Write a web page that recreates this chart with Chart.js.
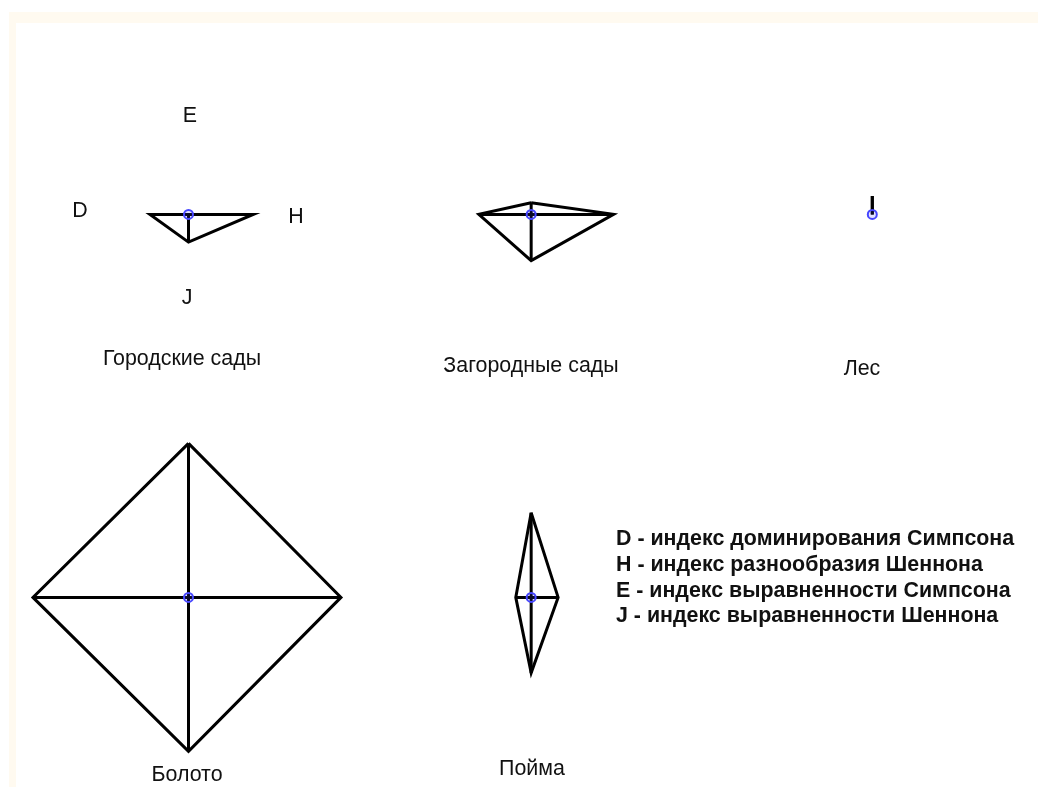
<!DOCTYPE html>
<html lang="ru">
<head>
<meta charset="utf-8">
<title>Индексы разнообразия</title>
<script src="https://cdn.jsdelivr.net/npm/chart.js@4.4.1/dist/chart.umd.min.js"></script>
<style>
  html, body { margin: 0; padding: 0; background: #fff; }
  #wrap { position: relative; width: 1038px; height: 787px; overflow: hidden; }
  #frame {
    position: absolute; left: 9px; top: 12px; right: 0; bottom: 0;
    border-top: 11px solid #fffaf0; border-left: 7px solid #fffaf0;
    background: #fff;
  }
  #chart { position: absolute; left: 0; top: 0; }
  .lbl {
    position: absolute; font-family: "Liberation Sans", Arial, sans-serif;
    font-size: 21.4px; line-height: 21.4px; color: #111; white-space: nowrap;
    transform: translateX(-50%);
  }
  .legend {
    position: absolute; left: 616px; font-family: "Liberation Sans", Arial, sans-serif;
    font-size: 21.4px; line-height: 21.4px; font-weight: bold; color: #111; white-space: nowrap;
  }
</style>
</head>
<body>
<div id="wrap">
  <div id="frame"></div>
  <canvas id="chart" width="1038" height="787"></canvas>

  <div class="lbl" style="left:190px;top:105px">E</div>
  <div class="lbl" style="left:80px;top:200px">D</div>
  <div class="lbl" style="left:296px;top:206px">H</div>
  <div class="lbl" style="left:187px;top:287px">J</div>

  <div class="lbl" style="left:182px;top:348px">Городские сады</div>
  <div class="lbl" style="left:531px;top:355px">Загородные сады</div>
  <div class="lbl" style="left:862px;top:358px">Лес</div>
  <div class="lbl" style="left:187px;top:764px">Болото</div>
  <div class="lbl" style="left:532px;top:758px">Пойма</div>

  <div class="legend" style="top:528px">D - индекс доминирования Симпсона</div>
  <div class="legend" style="top:554px">H - индекс разнообразия Шеннона</div>
  <div class="legend" style="top:580px">E - индекс выравненности Симпсона</div>
  <div class="legend" style="top:605px">J - индекс выравненности Шеннона</div>
</div>

<script>
// sites and index values (relative units, Болото ~ 1)
const sites = ["Городские сады", "Загородные сады", "Лес", "Болото", "Пойма"];
const indexD = [0.25, 0.34, 0, 1.01, 0.10];
const indexH = [0.42, 0.535, 0, 0.99, 0.175];
const indexE = [0, 0.075, 0.12, 1.0, 0.55];
const indexJ = [0.18, 0.30, 0, 1.0, 0.49];

// where each site's cross sits on the sheet
const cellX = [0, 2.225, 4.44, 0, 2.225];
const cellY = [0, 0, 0, -2.487, -2.487];

document.addEventListener("DOMContentLoaded", () => {
  initChart();
});

function initChart() {
  const canvas = document.getElementById("chart");
  if (!canvas) return;

  const datasets = [];

  // center markers, drawn on top
  datasets.push({
    label: "центр",
    data: sites.map((s, i) => ({ x: cellX[i], y: cellY[i] })),
    showLine: false,
    pointRadius: 4.5,
    pointBorderWidth: 2,
    pointBorderColor: "#4646ff",
    pointBackgroundColor: "rgba(70,70,255,0.15)",
    order: 0,
  });

  sites.forEach((name, i) => {
    const cx = cellX[i];
    const cy = cellY[i];
    const top = { x: cx, y: cy + indexE[i] };
    const right = { x: cx + indexH[i], y: cy };
    const bottom = { x: cx, y: cy - indexJ[i] };
    const left = { x: cx - indexD[i], y: cy };

    // outline
    datasets.push({
      label: name,
      data: [top, right, bottom, left, top],
      showLine: true,
      borderColor: "#000",
      borderWidth: 3,
      pointRadius: 0,
      fill: false,
      order: 1,
    });

    // spokes E-J and D-H
    datasets.push({
      label: name + " оси",
      data: [top, bottom, { x: cx, y: null }, left, right],
      showLine: true,
      spanGaps: false,
      borderColor: "#000",
      borderWidth: 3,
      pointRadius: 0,
      fill: false,
      order: 1,
    });
  });

  new Chart(canvas.getContext("2d"), {
    type: "scatter",
    data: { datasets },
    options: {
      responsive: false,
      animation: false,
      devicePixelRatio: 1,
      layout: { padding: 0, autoPadding: false },
      plugins: {
        legend: { display: false },
        tooltip: { enabled: false },
      },
      scales: {
        x: { type: "linear", display: false, min: -1.224, max: 5.516 },
        y: { type: "linear", display: false, min: -3.718, max: 1.392 },
      },
    },
  });
}
</script>
</body>
</html>
